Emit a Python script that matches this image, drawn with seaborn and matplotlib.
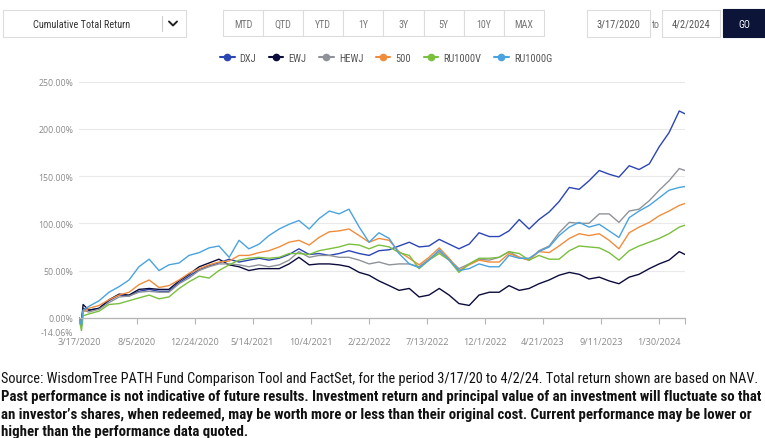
import matplotlib
matplotlib.use("Agg")
import matplotlib.pyplot as plt
import seaborn as sns
import pandas as pd
import numpy as np
from matplotlib.patches import Rectangle
from matplotlib.lines import Line2D
from matplotlib import font_manager as fm

# ---------------- data ----------------
dates = ["2020-03-17", "2020-03-23", "2020-03-27", "2020-04-10", "2020-05-05", "2020-05-29",
         "2020-06-23", "2020-07-17", "2020-08-10", "2020-09-04", "2020-09-28", "2020-10-22",
         "2020-11-16", "2020-12-10", "2021-01-04", "2021-01-28", "2021-02-21", "2021-03-18",
         "2021-04-11", "2021-05-05", "2021-05-30", "2021-06-23", "2021-07-18", "2021-08-11",
         "2021-09-04", "2021-09-29", "2021-10-23", "2021-11-17", "2021-12-11", "2022-01-04",
         "2022-01-29", "2022-02-22", "2022-03-18", "2022-04-12", "2022-05-06", "2022-05-31",
         "2022-06-24", "2022-07-18", "2022-08-12", "2022-09-05", "2022-09-29", "2022-10-24",
         "2022-11-17", "2022-12-12", "2023-01-05", "2023-01-29", "2023-02-23", "2023-03-19",
         "2023-04-12", "2023-05-07", "2023-05-31", "2023-06-25", "2023-07-19", "2023-08-12",
         "2023-09-06", "2023-09-30", "2023-10-24", "2023-11-18", "2023-12-12", "2024-01-06",
         "2024-01-30", "2024-02-23", "2024-03-19", "2024-04-02"]

DXJ = [0, -6, 10, 8, 10, 18, 24, 23, 28, 30, 28, 28, 37, 44, 51, 55, 58, 62, 59, 61, 63, 61,
       63, 67, 73, 67, 68, 66, 68, 71, 68, 66, 71, 72, 76, 80, 75, 76, 83, 78, 73, 78, 90, 86,
       86, 92, 104, 94, 104, 112, 123, 138, 136, 145, 156, 152, 149, 161, 157, 163, 181, 196,
       219, 216]
EWJ = [0, -5, 14, 8, 10, 19, 25, 24, 30, 31, 30, 30, 39, 46, 54, 58, 62, 56, 54, 50, 52, 52,
       52, 57, 64, 56, 57, 57, 56, 54, 48, 45, 39, 34, 29, 31, 22, 24, 31, 24, 15, 13, 24, 27,
       27, 34, 29, 31, 36, 40, 45, 48, 46, 41, 43, 39, 36, 43, 46, 52, 57, 61, 70, 67]
HEWJ = [0, -7, 8, 6, 9, 16, 22, 23, 27, 28, 27, 27, 36, 42, 50, 54, 57, 57, 56, 54, 56, 54,
        56, 61, 70, 64, 66, 66, 64, 64, 61, 57, 59, 56, 57, 57, 54, 62, 70, 62, 52, 57, 62, 61,
        64, 70, 64, 61, 71, 76, 90, 101, 100, 100, 110, 110, 101, 113, 115, 124, 135, 145,
        158, 156]
SP500 = [0, -9, 6, 10, 13, 19, 24, 27, 35, 40, 32, 34, 40, 47, 52, 56, 59, 60, 66, 66, 69, 71,
         75, 80, 82, 77, 85, 91, 92, 94, 87, 80, 84, 82, 70, 63, 56, 64, 74, 63, 50, 56, 61, 59,
         59, 68, 64, 61, 70, 69, 76, 84, 89, 87, 89, 82, 73, 90, 96, 101, 108, 113, 119, 121]
RU1000V = [0, -14, 2, 4, 7, 14, 15, 18, 21, 24, 20, 22, 31, 38, 44, 42, 50, 56, 61, 63, 64, 63,
           64, 68, 68, 67, 71, 73, 75, 78, 77, 73, 77, 75, 69, 66, 52, 61, 68, 61, 48, 57, 63,
           63, 64, 70, 68, 61, 66, 62, 62, 71, 76, 75, 74, 69, 61, 71, 76, 80, 84, 89, 96, 98]
RU1000G = [0, -8, 8, 12, 18, 27, 33, 40, 54, 62, 50, 56, 58, 66, 69, 74, 76, 64, 82, 73, 78, 87,
           94, 99, 103, 94, 105, 113, 110, 115, 96, 80, 90, 84, 68, 57, 53, 61, 72, 61, 50, 52,
           57, 54, 54, 66, 63, 63, 70, 75, 87, 96, 101, 96, 99, 92, 85, 106, 113, 119, 127, 135,
           138, 139]

series_names = ["DXJ", "EWJ", "HEWJ", "500", "RU1000V", "RU1000G"]
series_values = [DXJ, EWJ, HEWJ, SP500, RU1000V, RU1000G]
series_colors = ["#2b45b3", "#0c0c3c", "#8f9399", "#f08d3c", "#7bbf3e", "#4aa3df"]

xtick_dates = ["2020-03-17", "2020-08-05", "2020-12-24", "2021-05-14", "2021-10-04", "2022-02-22",
               "2022-07-13", "2022-12-01", "2023-04-21", "2023-09-11", "2024-01-30"]
xtick_labels = ["3/17/2020", "8/5/2020", "12/24/2020", "5/14/2021", "10/4/2021", "2/22/2022",
                "7/13/2022", "12/1/2022", "4/21/2023", "9/11/2023", "1/30/2024"]
ytick_values = [-14.06, 0, 50, 100, 150, 200, 250]

buttons = ["MTD", "QTD", "YTD", "1Y", "3Y", "5Y", "10Y", "MAX"]
source_text = ("Source: WisdomTree PATH Fund Comparison Tool and FactSet, for the period 3/17/20 to "
               "4/2/24. Total return shown are based on NAV.")
bold_lines = ["Past performance is not indicative of future results. Investment return and principal "
              "value of an investment will fluctuate so that",
              "an investor\u2019s shares, when redeemed, may be worth more or less than their original "
              "cost. Current performance may be lower or",
              "higher than the performance data quoted."]

# ---------------- fonts ----------------
available = {f.name for f in fm.fontManager.ttflist}
cond = next((n for n in ["Liberation Sans Narrow", "Roboto Condensed", "Open Sans Condensed",
                         "Noto Sans"] if n in available), "DejaVu Sans")
ui = next((n for n in ["Open Sans", "Noto Sans"] if n in available), "DejaVu Sans")

sns.set_theme(style="white")
plt.rcParams["font.family"] = [ui, "DejaVu Sans"]

W, H = 765, 439
fig = plt.figure(figsize=(W / 100, H / 100), dpi=100)


def fx(px):
    return px / W


def fy(py):
    return 1 - py / H


# ---------------- chart ----------------
ax = fig.add_axes([fx(79), fy(332), fx(685) - fx(79), (332 - 78) / H])
n = len(dates)
df = pd.DataFrame({
    "date": np.tile(pd.to_datetime(dates).values, len(series_names)),
    "series": np.repeat(series_names, n),
    "ret": np.concatenate([np.asarray(v, dtype=float) for v in series_values]),
})
sns.lineplot(data=df, x="date", y="ret", hue="series", hue_order=series_names,
             palette=dict(zip(series_names, series_colors)), linewidth=1.0,
             estimator=None, sort=False, legend=False, ax=ax)

ax.set_xlim(pd.Timestamp("2020-03-17"), pd.Timestamp("2024-04-02"))
ax.set_ylim(-14.06, 255)
ax.set_xlabel("")
ax.set_ylabel("")
for s in ["top", "right", "left"]:
    ax.spines[s].set_visible(False)
ax.spines["bottom"].set_position(("data", 0))
ax.spines["bottom"].set_color("#b5b5b5")
ax.spines["bottom"].set_linewidth(0.9)
ax.set_xticks(pd.to_datetime(xtick_dates))
ax.set_xticklabels(xtick_labels)
ax.set_xticks([pd.Timestamp("2024-04-02")], minor=True)
ax.tick_params(axis="x", which="both", direction="out", length=4, width=0.8, color="#b5b5b5",
               pad=10, labelsize=6.6, labelcolor="#8a8a8a", bottom=True)
ax.set_yticks(ytick_values)
ax.set_yticklabels([f"{v:.2f}%" for v in ytick_values])
ax.tick_params(axis="y", length=0, pad=4, labelsize=6.3, labelcolor="#8a8a8a")
ax.yaxis.grid(True, color="#e9e9e9", linewidth=0.8)
ax.xaxis.grid(False)
ax.set_axisbelow(True)
ax.set_facecolor("none")

# legend
handles = [Line2D([0], [0], color=c, lw=1.5, marker="o", markersize=4.5) for c in series_colors]
fig.legend(handles, series_names, loc="center", bbox_to_anchor=(fx(386), fy(59)), ncol=6,
           frameon=False, handlelength=1.4, handletextpad=0.5, columnspacing=1.2,
           labelcolor="#555555", prop={"family": [cond, "DejaVu Sans"], "size": 7.5})

# ---------------- header controls ----------------
def box(x0, y0, x1, y1, fc="white", ec="#dcdcdc"):
    fig.add_artist(Rectangle((fx(x0), fy(y1)), fx(x1) - fx(x0), (y1 - y0) / H,
                             transform=fig.transFigure, facecolor=fc, edgecolor=ec, lw=0.8))


hf = [cond, "DejaVu Sans"]
box(3, 11, 186, 38)
fig.text(fx(82), fy(24.5), "Cumulative Total Return", ha="center", va="center", fontsize=7.4,
         color="#333333", family=hf)
fig.add_artist(Line2D([fx(162), fx(162)], [fy(17), fy(32)], transform=fig.transFigure,
                      color="#cccccc", lw=0.8))
fig.add_artist(Line2D([fx(169), fx(173), fx(177)], [fy(22.5), fy(26.5), fy(22.5)],
                      transform=fig.transFigure, color="#222222", lw=1.4))

bx0, bw = 223, 40.1
for i, b in enumerate(buttons):
    box(bx0 + i * bw, 11, bx0 + (i + 1) * bw, 37)
    fig.text(fx(bx0 + (i + 0.5) * bw), fy(24.5), b, ha="center", va="center", fontsize=7.2,
             color="#777777", family=hf)

box(587, 11, 650, 38)
fig.text(fx(618.5), fy(24.5), "3/17/2020", ha="center", va="center", fontsize=7.5,
         color="#555555", family=hf)
fig.text(fx(656), fy(24.5), "to", ha="center", va="center", fontsize=7.2, color="#777777",
         family=hf)
box(662, 11, 720, 38)
fig.text(fx(691), fy(24.5), "4/2/2024", ha="center", va="center", fontsize=7.5,
         color="#555555", family=hf)
box(723, 10, 765, 38, fc="#0c1437", ec="#0c1437")
fig.text(fx(744), fy(24.5), "GO", ha="center", va="center", fontsize=7.2, color="white",
         family=hf)

# ---------------- footer ----------------
fam = [cond, "DejaVu Sans"]
t0 = fig.text(0.0015, fy(379), source_text, ha="left", va="center", fontsize=10, color="#111111",
              family=fam)
tb = []
for i, line in enumerate(bold_lines):
    tb.append(fig.text(0.0015, fy(397 + i * 17.7), line, ha="left", va="center", fontsize=10,
                       color="#111111", weight="bold", family=fam))
renderer = fig.canvas.get_renderer()
wb = tb[0].get_window_extent(renderer).width
ws = t0.get_window_extent(renderer).width
t0.set_fontsize(10 * 756 / ws)
for t in tb:
    t.set_fontsize(10 * 761 / wb)

fig.savefig("out.png", dpi=100)
